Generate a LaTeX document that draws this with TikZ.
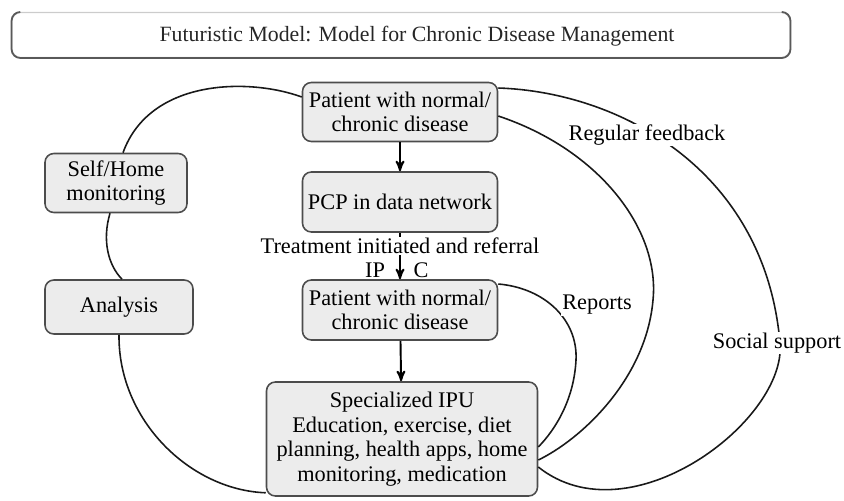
\documentclass[tikz,border=0pt]{standalone}
\usepackage{fontspec}
\setmainfont{Liberation Serif}
\usepackage{tikz}
\usetikzlibrary{arrows}

\begin{document}
\begin{tikzpicture}[x=0.02cm,y=-0.02cm,
  >=stealth',semithick,
  box/.style={draw=black!70,fill=gray!15,rounded corners=5pt,line width=0.9pt,align=center,inner sep=2pt,font=\fontsize{12.7}{14}\selectfont},
  link/.style={draw=black!90,line width=0.9pt},
  lab/.style={fill=white,inner sep=0.5pt,font=\fontsize{12.7}{14}\selectfont}]
  \useasboundingbox (0,0) rectangle (844,500);

  % title bar
  \node [draw=black!20,rounded corners=5pt,minimum width=15.56cm,minimum height=0.9cm] (t) at (401,35) {};
  \draw [black!65,line width=1pt,rounded corners=5pt] ([xshift=5pt]t.north west) -- (t.north west) -- (t.south west)
    -- (t.south east) -- (t.north east) -- ([xshift=-5pt]t.north east);
  \node [font=\fontsize{12.4}{14}\selectfont,text=black!85] (tt) at (417,36) {Futuristic Model: Model for Chronic Disease Management};

  % main column
  \node [box,minimum width=3.9cm,minimum height=1.18cm] (p1) at (400,112) {Patient with normal/\\chronic disease};
  \node [box,minimum width=3.9cm,minimum height=1.2cm] (pcp) at (400,202) {PCP in data network};
  \node [box,minimum width=3.9cm,minimum height=1.2cm] (p2) at (400,310) {Patient with normal/\\chronic disease};
  \node [box,minimum width=5.42cm,minimum height=2.28cm] (ipu) at (402,439)
    {Specialized IPU\\Education, exercise, diet\\planning, health apps, home\\monitoring, medication};

  % left side
  \node [box,minimum width=2.84cm,minimum height=1.18cm] (home) at (116,183) {Self/Home\\monitoring};
  \node [box,minimum width=2.96cm,minimum height=1.08cm] (ana) at (119,307) {Analysis};

  \draw [->,line width=1.1pt] (p1) -- (pcp);
  \draw [->,line width=1.1pt] (pcp) -- (p2);
  \draw [->,line width=1.1pt] (p2) -- (ipu);
  \node [lab] (tr) at (400,246) {Treatment initiated and referral};
  \node [font=\fontsize{12.7}{14}\selectfont,inner sep=0pt,anchor=north] (ip) at (375,262) {IP};
  \node [font=\fontsize{12.7}{14}\selectfont,inner sep=0pt,anchor=north] (c) at (421,262) {C};

  % loop through monitoring and analysis
  \draw [link] ([yshift=0.3cm]p1.west) .. controls (250,78) and (150,78) .. ([xshift=0.14cm]home.north);
  \draw [link] ([xshift=-0.12cm]home.south) .. controls (102,240) and (108,265) .. ([xshift=0.06cm]ana.north);
  \draw [link] (ana.south) .. controls (118,420) and (190,490) .. ([yshift=0.08cm]ipu.south west);

  % feedback loops on the right
  \draw [link] ([yshift=0.48cm]p1.east) .. controls (620,92) and (765,170) .. (780,343)
    .. controls (787,420) and (630,540) .. ([yshift=-0.56cm]ipu.east);
  \draw [link] ([yshift=-0.08cm]p1.east) .. controls (600,150) and (660,230) .. (653,300)
    .. controls (646,380) and (580,440) .. ([yshift=-0.42cm]ipu.east);
  \draw [link] ([yshift=0.52cm]p2.east) .. controls (545,288) and (578,320) .. (576,360)
    .. controls (574,400) and (555,430) .. ([yshift=-0.16cm]ipu.east);

  \node [lab] (fb) at (647,135) {Regular feedback};
  \node [lab] (ss) at (777,343) {Social support};
  \node [lab] (rep) at (597,305) {Reports};

\end{tikzpicture}
\end{document}
